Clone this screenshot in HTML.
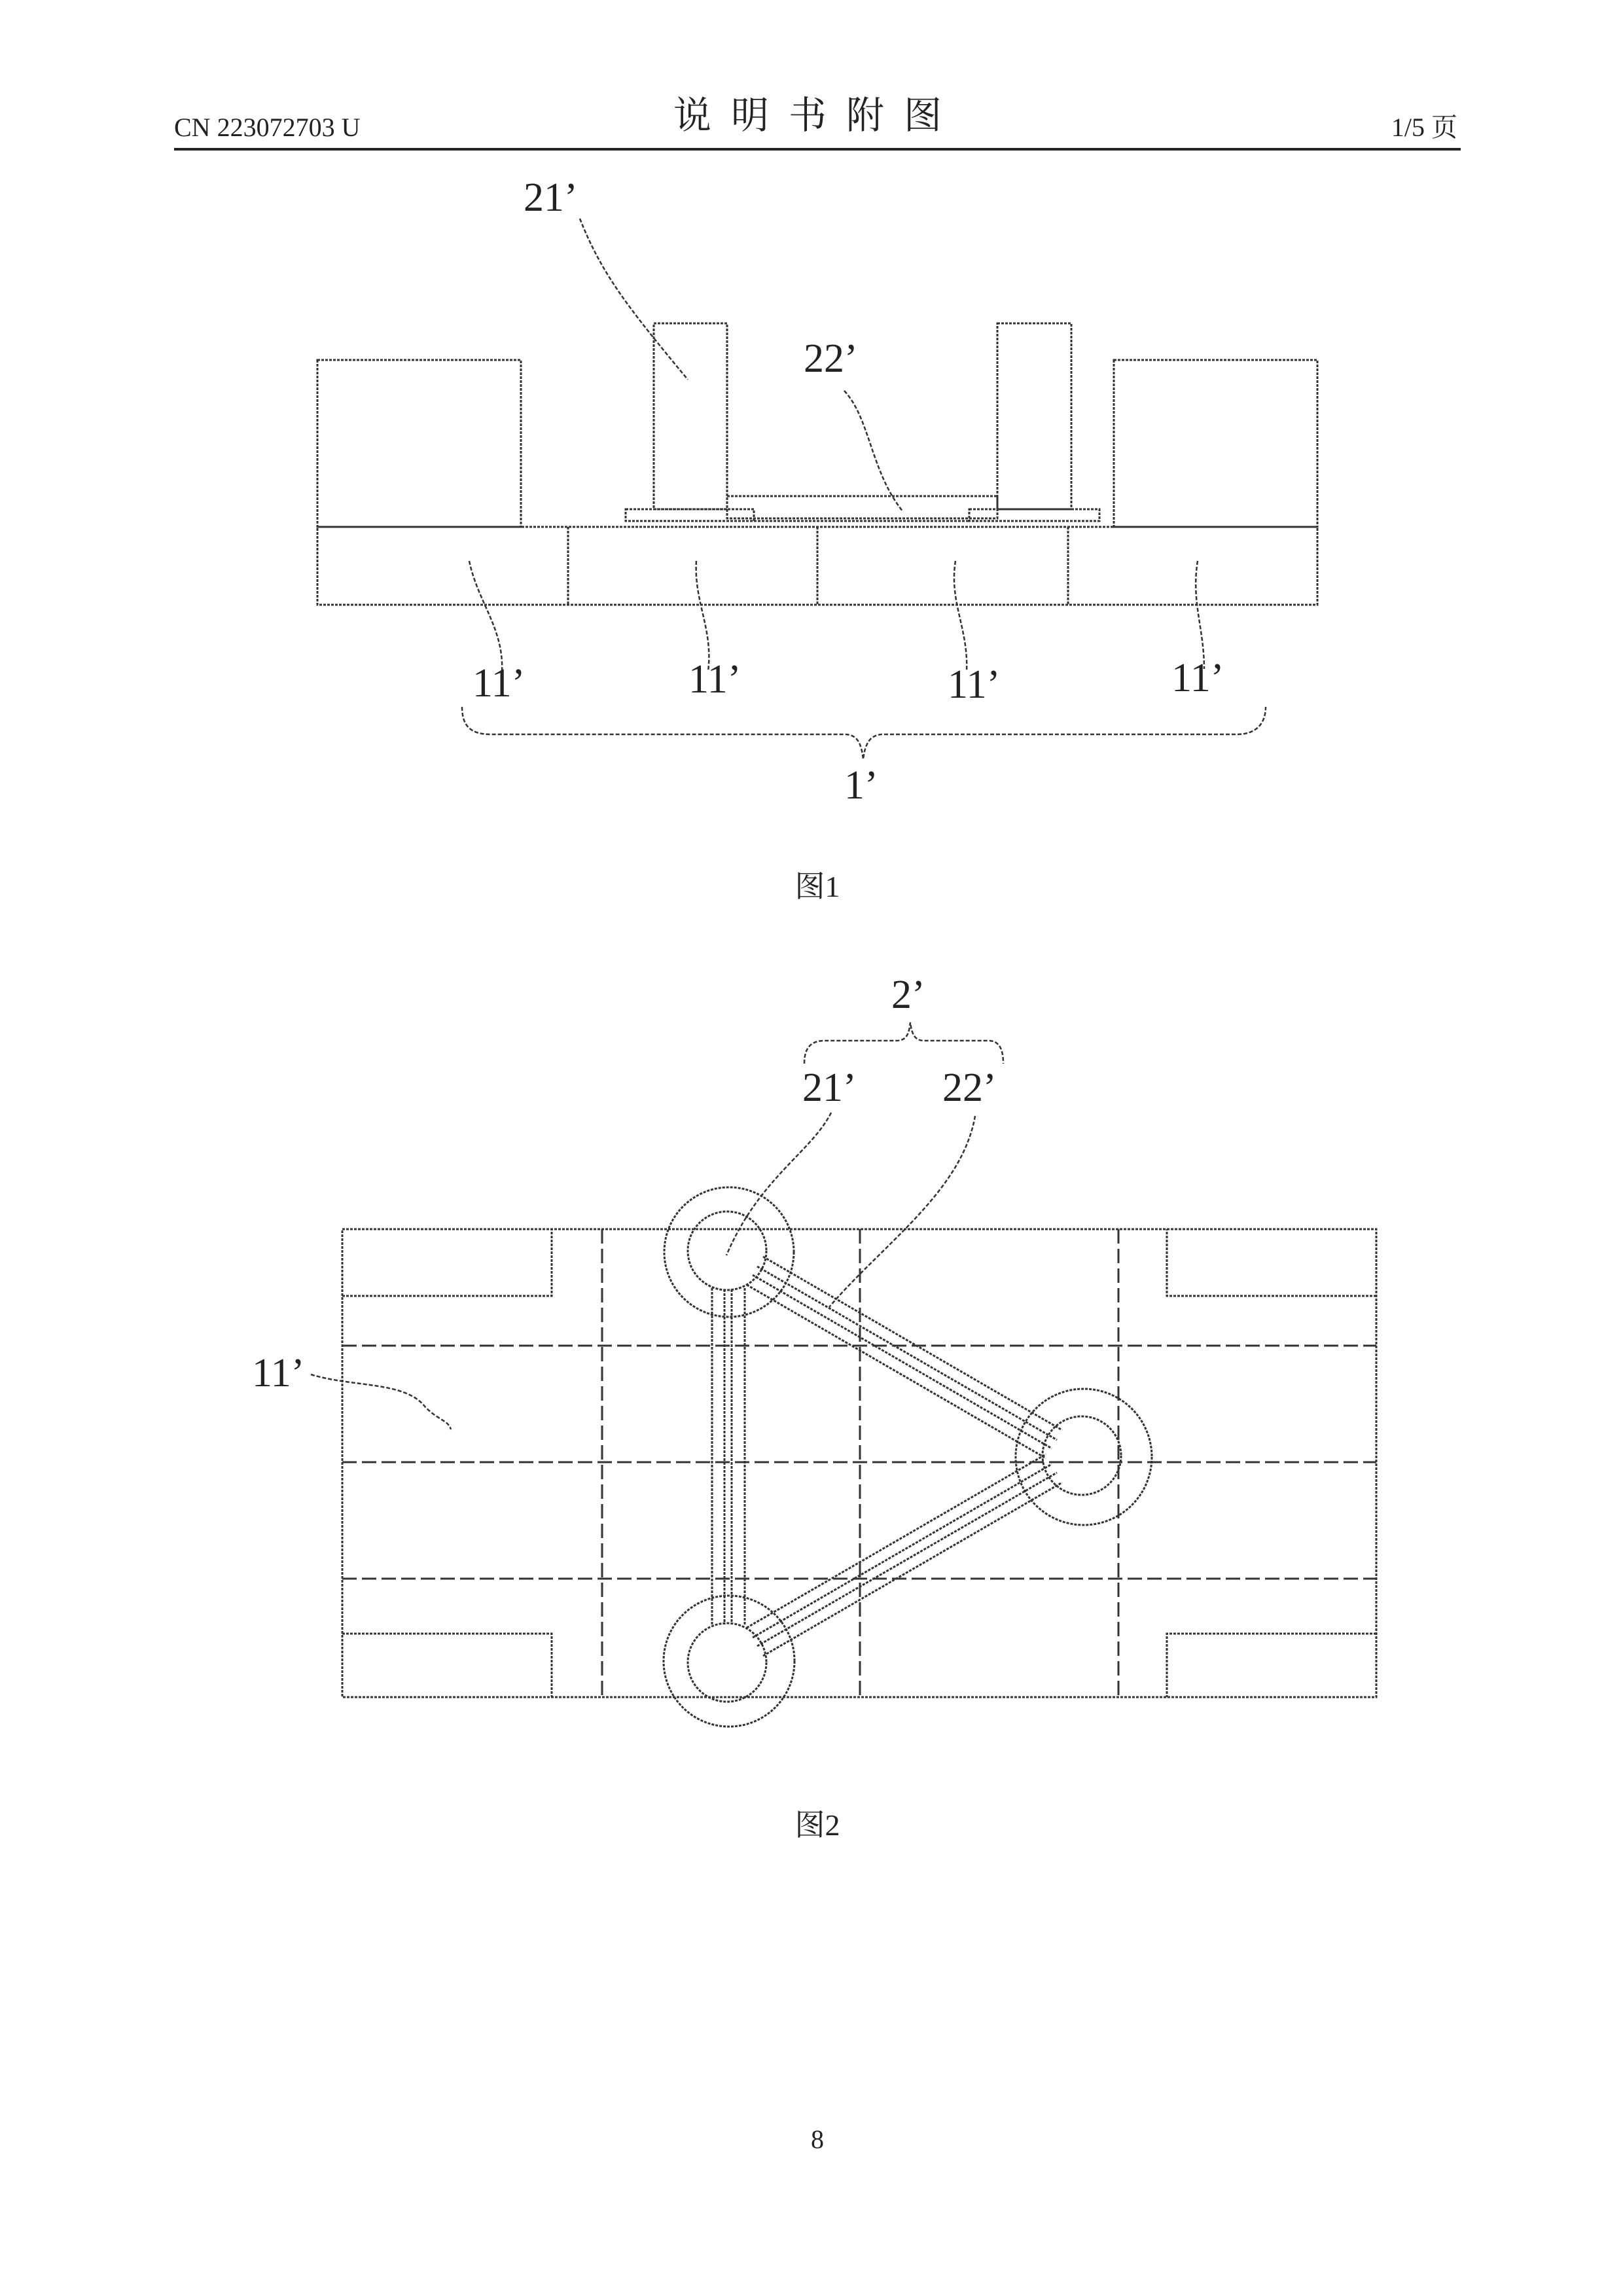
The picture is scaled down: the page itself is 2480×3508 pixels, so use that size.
<!DOCTYPE html>
<html><head><meta charset="utf-8"><style>
html,body{margin:0;padding:0;background:#fff}
svg{display:block}
text{font-family:"Liberation Serif","Noto Serif CJK SC",serif;fill:#222}
</style></head><body>
<svg width="2480" height="3508" viewBox="0 0 2480 3508" xmlns="http://www.w3.org/2000/svg">
<g>
<text x="266" y="208" font-size="40">CN 223072703 U</text>
<text x="1249" y="196" font-size="58" text-anchor="middle" font-family="Noto Sans CJK SC, sans-serif" letter-spacing="30">说明书附图</text>
<text x="2227" y="208" font-size="40" text-anchor="end">1/5 页</text>
<line x1="266" y1="228" x2="2232" y2="228" stroke="#222" stroke-width="4"/>
</g>
<!-- Figure 1 -->
<g fill="none" stroke="#333" stroke-width="3" stroke-dasharray="4 2">
<rect x="485" y="550" width="311" height="255"/>
<rect x="1702" y="550" width="311" height="255"/>
<rect x="485" y="805" width="1528" height="119"/>
<line x1="868" y1="805" x2="868" y2="924"/>
<line x1="1249" y1="805" x2="1249" y2="924"/>
<line x1="1632" y1="805" x2="1632" y2="924"/>
<rect x="999" y="494" width="112" height="284"/>
<rect x="1524" y="494" width="113" height="284"/>
<rect x="1111" y="758" width="413" height="34"/>
<rect x="956" y="778" width="196" height="18"/>
<rect x="1481" y="778" width="199" height="18"/>
<line x1="1152" y1="796" x2="1481" y2="796"/>
</g>
<g fill="none" stroke="#333" stroke-width="2.5" stroke-dasharray="6 3">
<path d="M886 334 C920 420 960 470 1051 580"/>
<path d="M1290 597 C1330 640 1330 720 1380 782"/>
<path d="M717 857 C730 920 770 960 767 1026"/>
<path d="M1064 857 C1060 920 1090 960 1082 1026"/>
<path d="M1460 857 C1450 920 1480 960 1477 1026"/>
<path d="M1830 857 C1820 920 1840 960 1840 1022"/>
<path d="M706 1080 C706 1110 720 1122 750 1122 L1290 1122 C1310 1122 1316 1135 1319 1160 C1322 1135 1330 1122 1350 1122 L1890 1122 C1920 1122 1934 1105 1934 1080"/>
</g>
<g font-size="62">
<text x="800" y="322">21’</text>
<text x="1228" y="568">22’</text>
<text x="722" y="1064">11’</text>
<text x="1052" y="1058">11’</text>
<text x="1448" y="1066">11’</text>
<text x="1790" y="1056">11’</text>
<text x="1290" y="1220">1’</text>
</g>
<text x="1249" y="1370" font-size="46" text-anchor="middle" font-family="Noto Serif CJK SC, serif">图1</text>
<!-- Figure 2 -->
<g fill="none" stroke="#333" stroke-width="3" stroke-dasharray="4 2">
<rect x="523" y="1878" width="1580" height="715"/>
<path d="M523 1980 L843 1980 L843 1878"/>
<path d="M2103 1980 L1783 1980 L1783 1878"/>
<path d="M523 2496 L843 2496 L843 2593"/>
<path d="M2103 2496 L1783 2496 L1783 2593"/>
</g>
<g fill="none" stroke="#333" stroke-width="3" stroke-dasharray="22 8">
<line x1="920" y1="1878" x2="920" y2="2593"/>
<line x1="1314" y1="1878" x2="1314" y2="2593"/>
<line x1="1709" y1="1878" x2="1709" y2="2593"/>
<line x1="523" y1="2056" x2="2103" y2="2056"/>
<line x1="523" y1="2234" x2="2103" y2="2234"/>
<line x1="523" y1="2412" x2="2103" y2="2412"/>
</g>
<g fill="none" stroke="#333" stroke-width="3" stroke-dasharray="4 2">
<circle cx="1114" cy="1913" r="99"/>
<circle cx="1111" cy="1911" r="60"/>
<circle cx="1656" cy="2226" r="104"/>
<circle cx="1653" cy="2224" r="60"/>
<circle cx="1114" cy="2538" r="100"/>
<circle cx="1111" cy="2540" r="60"/>
<!-- vertical bar -->
<line x1="1088" y1="1968" x2="1088" y2="2484"/>
<line x1="1138" y1="1968" x2="1138" y2="2484"/>
<line x1="1107" y1="1970" x2="1107" y2="2482"/>
<line x1="1118" y1="1970" x2="1118" y2="2482"/>
<!-- top to right -->
<line x1="1166" y1="1920" x2="1623" y2="2185"/>
<line x1="1141" y1="1963" x2="1598" y2="2228"/>
<line x1="1157" y1="1935" x2="1615" y2="2200"/>
<line x1="1150" y1="1948" x2="1607" y2="2213"/>
<!-- bottom to right -->
<line x1="1141" y1="2487" x2="1598" y2="2222"/>
<line x1="1166" y1="2530" x2="1623" y2="2265"/>
<line x1="1150" y1="2502" x2="1607" y2="2237"/>
<line x1="1157" y1="2515" x2="1615" y2="2250"/>
</g>
<g fill="none" stroke="#333" stroke-width="2.5" stroke-dasharray="6 3">
<path d="M1270 1700 C1240 1760 1160 1800 1110 1918"/>
<path d="M1490 1705 C1470 1820 1350 1900 1267 1997"/>
<path d="M475 2100 C540 2120 620 2110 650 2150 C670 2170 685 2170 689 2184"/>
<path d="M1229 1625 C1229 1600 1240 1590 1260 1590 L1370 1590 C1385 1590 1389 1580 1391 1562 C1393 1580 1398 1590 1412 1590 L1510 1590 C1525 1590 1533 1600 1533 1625"/>
</g>
<g font-size="62">
<text x="1362" y="1540">2’</text>
<text x="1226" y="1682">21’</text>
<text x="1440" y="1682">22’</text>
<text x="385" y="2118">11’</text>
</g>
<text x="1249" y="2804" font-size="46" text-anchor="middle" font-family="Noto Serif CJK SC, serif">图2</text>
<text x="1249" y="3282" font-size="40" text-anchor="middle">8</text>
</svg>
</body></html>
